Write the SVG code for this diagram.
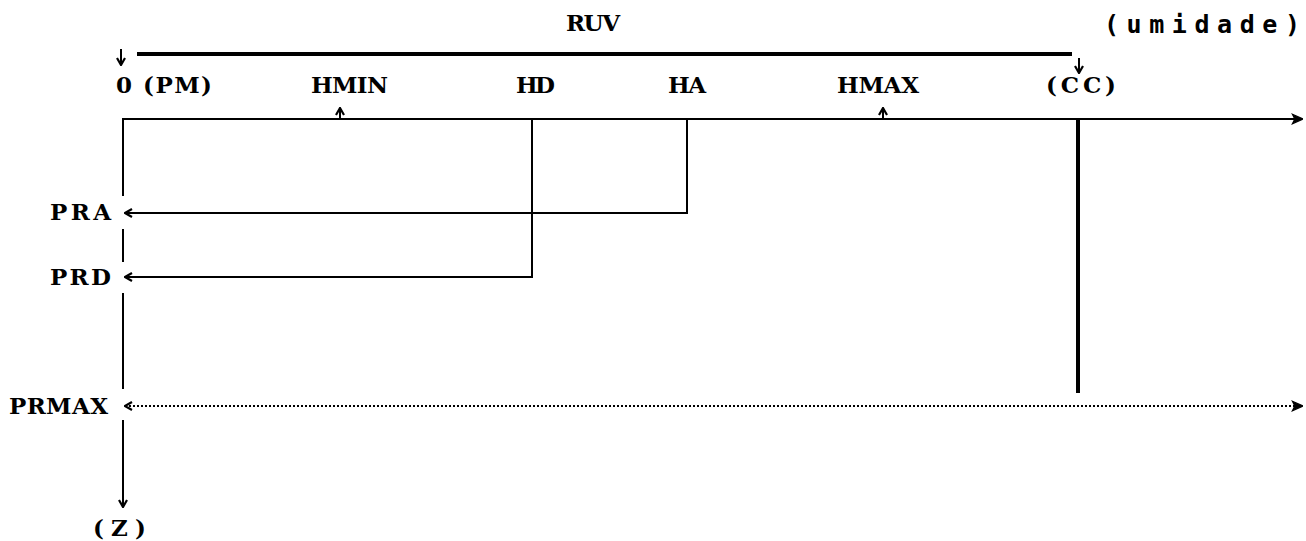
<svg xmlns="http://www.w3.org/2000/svg" width="1306" height="541" viewBox="0 0 1306 541">
<style>
  text { font-family: "DejaVu Serif", "Liberation Serif", serif; font-weight: bold; font-size: 23px; fill: #000; }
  text.mono { font-family: "DejaVu Sans Mono", "Liberation Mono", monospace; font-size: 25px; }
  .ln { fill: none; stroke: #000; stroke-width: 2; }
  .thick { fill: none; stroke: #000; stroke-width: 4; }
  .dot { fill: none; stroke: #000; stroke-width: 2; stroke-dasharray: 2 2; }
</style>
<defs>
  <marker id="chev" viewBox="0 0 10 10" refX="9" refY="5" markerWidth="10" markerHeight="10" orient="auto-start-reverse" markerUnits="userSpaceOnUse">
    <path d="M2,1 L9,5 L2,9" fill="none" stroke="#000" stroke-width="2.2"/>
  </marker>
  <marker id="tri" viewBox="0 0 10 10" refX="9" refY="5" markerWidth="12" markerHeight="12" orient="auto" markerUnits="userSpaceOnUse">
    <path d="M1,1 L10,5 L1,9 L3,5 Z" fill="#000" stroke="#000" stroke-width="1"/>
  </marker>
</defs>
<rect width="1306" height="541" fill="#fff"/>

<g id="connectors">
  <path class="thick" d="M137,54 H1072"/>
  <path class="ln" d="M121,49 V65" marker-end="url(#chev)"/>
  <path class="ln" d="M1079,58 V73" marker-end="url(#chev)"/>
  <path class="ln" d="M340,119 V108" marker-end="url(#chev)"/>
  <path class="ln" d="M883,119 V108" marker-end="url(#chev)"/>
  <path class="ln" d="M122,119 H1302" stroke-width="2.5" marker-end="url(#tri)"/>
  <path class="ln" d="M123,119 V196"/>
  <path class="ln" d="M123,229 V262"/>
  <path class="ln" d="M123,293 V389"/>
  <path class="ln" d="M123,420 V507" marker-end="url(#chev)"/>
  <path class="ln" d="M687,119 V213 H125" marker-end="url(#chev)"/>
  <path class="ln" d="M532,119 V277 H125" marker-end="url(#chev)"/>
  <path class="thick" d="M1078,120 V393"/>
  <path class="dot" d="M125,406 H1302" marker-start="url(#chev)" marker-end="url(#tri)"/>
</g>

<g id="label-ruv"><text x="566" y="31" textLength="54">RUV</text></g>
<g id="label-umidade"><text class="mono" x="1104" y="33" textLength="196">(umidade)</text></g>
<g id="label-pm"><text x="116" y="93" textLength="96">0 (PM)</text></g>
<g id="label-hmin"><text x="311" y="93" textLength="77">HMIN</text></g>
<g id="label-hd"><text x="516" y="93" textLength="39">HD</text></g>
<g id="label-ha"><text x="668" y="93" textLength="38">HA</text></g>
<g id="label-hmax"><text x="837" y="93" textLength="82">HMAX</text></g>
<g id="label-cc"><text x="1046" y="93" textLength="70">(CC)</text></g>
<g id="label-pra"><text x="50" y="220" textLength="61">PRA</text></g>
<g id="label-prd"><text x="50" y="285" textLength="61">PRD</text></g>
<g id="label-prmax"><text x="9" y="414" textLength="99">PRMAX</text></g>
<g id="label-z"><text x="93" y="536" textLength="53">(Z)</text></g>
</svg>
